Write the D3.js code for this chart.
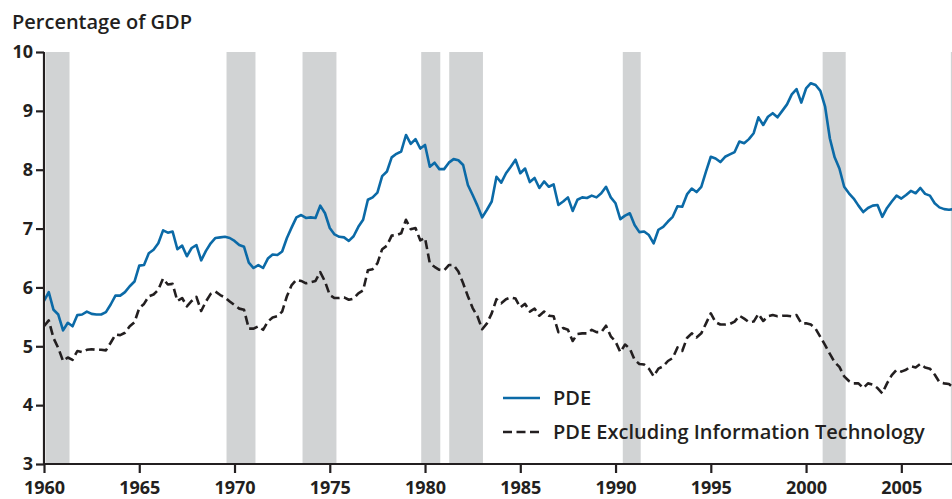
<!DOCTYPE html>
<head>
<script src="https://d3js.org/d3.v7.min.js"></script>
<meta charset="utf-8">
<style>
body { margin: 0; background: #fff; }
svg text { font-family: "Open Sans", "Noto Sans", sans-serif; font-weight: 600; fill: #231f20; }
</style>
</head>
<body>
<svg id="chart"></svg>
<script>

// quarterly series, 1960Q1 onward, percent of GDP
var firstYear = 1960;

var pde = [
  5.77, 5.92, 5.62, 5.54, 5.27, 5.40, 5.34, 5.53, 5.54, 5.59, 5.55, 5.54,
  5.54, 5.58, 5.71, 5.86, 5.86, 5.92, 6.02, 6.10, 6.37, 6.38, 6.58, 6.64,
  6.75, 6.97, 6.93, 6.95, 6.65, 6.71, 6.53, 6.67, 6.72, 6.46, 6.62, 6.75,
  6.84, 6.85, 6.86, 6.84, 6.79, 6.72, 6.69, 6.42, 6.33, 6.38, 6.33, 6.49,
  6.56, 6.55, 6.61, 6.84, 7.02, 7.19, 7.23, 7.18, 7.19, 7.18, 7.39, 7.26,
  7.01, 6.90, 6.86, 6.85, 6.79, 6.87, 7.03, 7.15, 7.49, 7.53, 7.61, 7.89,
  7.97, 8.21, 8.27, 8.31, 8.59, 8.44, 8.52, 8.36, 8.42, 8.05, 8.12, 8.01,
  8.01, 8.12, 8.18, 8.16, 8.08, 7.74, 7.57, 7.39, 7.19, 7.32, 7.46, 7.88,
  7.78, 7.94, 8.05, 8.17, 7.94, 8.02, 7.79, 7.86, 7.69, 7.80, 7.71, 7.75,
  7.40, 7.46, 7.53, 7.30, 7.49, 7.53, 7.52, 7.56, 7.53, 7.60, 7.71, 7.53,
  7.43, 7.16, 7.22, 7.26, 7.06, 6.94, 6.95, 6.89, 6.75, 6.98, 7.03, 7.12,
  7.20, 7.38, 7.37, 7.58, 7.68, 7.62, 7.71, 7.97, 8.22, 8.19, 8.13, 8.22,
  8.26, 8.30, 8.48, 8.45, 8.52, 8.62, 8.89, 8.76, 8.90, 8.96, 8.89, 9.00,
  9.11, 9.28, 9.37, 9.14, 9.38, 9.47, 9.44, 9.34, 9.07, 8.53, 8.21, 8.02,
  7.71, 7.60, 7.51, 7.39, 7.28, 7.35, 7.39, 7.40, 7.20, 7.35, 7.46, 7.56,
  7.51, 7.57, 7.64, 7.60, 7.69, 7.59, 7.56, 7.43, 7.36, 7.33, 7.32, 7.33
];

var pdeExIT = [
  5.34, 5.44, 5.14, 4.97, 4.75, 4.81, 4.77, 4.92, 4.90, 4.94, 4.95, 4.94,
  4.94, 4.93, 5.06, 5.20, 5.19, 5.23, 5.34, 5.41, 5.65, 5.72, 5.85, 5.88,
  5.96, 6.15, 6.05, 6.06, 5.77, 5.82, 5.68, 5.77, 5.84, 5.60, 5.76, 5.89,
  5.93, 5.87, 5.83, 5.76, 5.70, 5.64, 5.62, 5.30, 5.30, 5.34, 5.28, 5.42,
  5.49, 5.51, 5.59, 5.85, 6.04, 6.13, 6.11, 6.07, 6.09, 6.11, 6.26, 6.10,
  5.87, 5.82, 5.82, 5.83, 5.79, 5.81, 5.90, 5.95, 6.29, 6.31, 6.41, 6.65,
  6.71, 6.88, 6.89, 6.92, 7.15, 6.99, 7.01, 6.80, 6.84, 6.41, 6.35, 6.30,
  6.29, 6.38, 6.38, 6.27, 6.07, 5.85, 5.65, 5.51, 5.29, 5.39, 5.56, 5.80,
  5.73, 5.80, 5.83, 5.81, 5.66, 5.72, 5.59, 5.64, 5.52, 5.59, 5.52, 5.51,
  5.24, 5.31, 5.28, 5.09, 5.21, 5.22, 5.22, 5.28, 5.24, 5.24, 5.35, 5.17,
  5.08, 4.90, 5.03, 4.96, 4.77, 4.70, 4.69, 4.62, 4.49, 4.62, 4.66, 4.75,
  4.80, 4.98, 4.92, 5.14, 5.22, 5.15, 5.22, 5.39, 5.56, 5.41, 5.37, 5.37,
  5.38, 5.42, 5.52, 5.47, 5.41, 5.42, 5.55, 5.43, 5.51, 5.53, 5.51, 5.52,
  5.52, 5.51, 5.53, 5.39, 5.39, 5.37, 5.30, 5.16, 5.02, 4.87, 4.73, 4.65,
  4.49, 4.41, 4.37, 4.37, 4.29, 4.37, 4.35, 4.29, 4.20, 4.37, 4.51, 4.60,
  4.57, 4.60, 4.66, 4.64, 4.70, 4.64, 4.62, 4.52, 4.39, 4.37, 4.36, 4.29
];

// recession bands, start/end as decimal years
var recessionStart = [1960.1, 1969.58, 1973.57, 1979.8, 1981.27, 1990.38, 2000.87, 2007.6];
var recessionEnd   = [1961.34, 1971.1, 1975.35, 1980.8, 1983.04, 1991.32, 2002.08, 2008.5];

var xTicks = [1960, 1965, 1970, 1975, 1980, 1985, 1990, 1995, 2000, 2005];
var yTicks = [3, 4, 5, 6, 7, 8, 9, 10];

var seriesNames = ["PDE", "PDE Excluding Information Technology"];

// chart parameters
var width = 952,
    height = 499,
    plotLeft = 44,
    plotRight = 952,
    plotTop = 52,
    plotBottom = 464,
    ink = "#231f20",
    blue = "#0b6aa7";

var svg = d3.select("#chart")
    .attr("width", width)
    .attr("height", height);

var x = d3.scaleLinear().domain([1960, 2007.66]).range([plotLeft, plotRight]);
var y = d3.scaleLinear().domain([3, 10]).range([plotBottom, plotTop]);

svg.append("defs").append("clipPath").attr("id", "plotclip")
  .append("rect")
    .attr("x", plotLeft).attr("y", 0)
    .attr("width", plotRight - plotLeft).attr("height", plotBottom);

// recession shading
svg.append("g")
    .attr("clip-path", "url(#plotclip)")
  .selectAll("rect")
  .data(recessionStart)
  .join("rect")
    .attr("x", (d) => x(d))
    .attr("width", (d, i) => x(recessionEnd[i]) - x(d))
    .attr("y", y(10))
    .attr("height", y(3) - y(10))
    .attr("fill", "#d1d3d4");

function quarterYear(i) { return firstYear + i / 4; }

var line = d3.line()
    .x((d, i) => x(quarterYear(i)))
    .y((d) => y(d));

var lines = svg.append("g").attr("clip-path", "url(#plotclip)");

lines.append("path")
    .datum(pdeExIT)
    .attr("d", line)
    .attr("fill", "none")
    .attr("stroke", ink)
    .attr("stroke-width", 2.6)
    .attr("stroke-dasharray", "9,4.5")
    .attr("stroke-linejoin", "round");

lines.append("path")
    .datum(pde)
    .attr("d", line)
    .attr("fill", "none")
    .attr("stroke", blue)
    .attr("stroke-width", 2.6)
    .attr("stroke-linejoin", "round");

// axes
var yAxis = d3.axisLeft(y).tickValues(yTicks).tickSize(8).tickPadding(3).tickFormat(d3.format("d"));
var xAxis = d3.axisBottom(x).tickValues(xTicks).tickSize(9).tickPadding(8).tickFormat(d3.format("d"));

var gy = svg.append("g").attr("transform", "translate(" + plotLeft + ",0)").call(yAxis);
var gx = svg.append("g").attr("transform", "translate(0," + plotBottom + ")").call(xAxis);

[gy, gx].forEach(function(g) {
  g.select(".domain").attr("stroke", ink).attr("stroke-width", 2.2);
  g.selectAll(".tick line").attr("stroke", ink).attr("stroke-width", 2.2);
  g.selectAll(".tick text")
    .style("font-size", "18px")
    .style("font-weight", "700")
    .attr("fill", ink);
});
gy.select(".domain").attr("d", "M0," + y(10) + "V" + plotBottom);
gx.select(".domain").attr("d", "M" + plotLeft + ",0H" + plotRight);

// title
svg.append("text")
    .attr("x", 12)
    .attr("y", 29)
    .style("font-size", "20px")
    .text("Percentage of GDP");

// legend
var legend = svg.append("g").attr("transform", "translate(503,398)");
legend.selectAll("line")
  .data(seriesNames)
  .join("line")
    .attr("x1", 0).attr("x2", 37)
    .attr("y1", (d, i) => i * 34).attr("y2", (d, i) => i * 34)
    .attr("stroke", (d, i) => i == 0 ? blue : ink)
    .attr("stroke-width", 2.6)
    .attr("stroke-dasharray", (d, i) => i == 0 ? null : "9,4.5");
legend.selectAll("text")
  .data(seriesNames)
  .join("text")
    .attr("x", 50)
    .attr("y", (d, i) => i * 34 + 7)
    .style("font-size", "20px")
    .text((d) => d);

</script>
</body>
